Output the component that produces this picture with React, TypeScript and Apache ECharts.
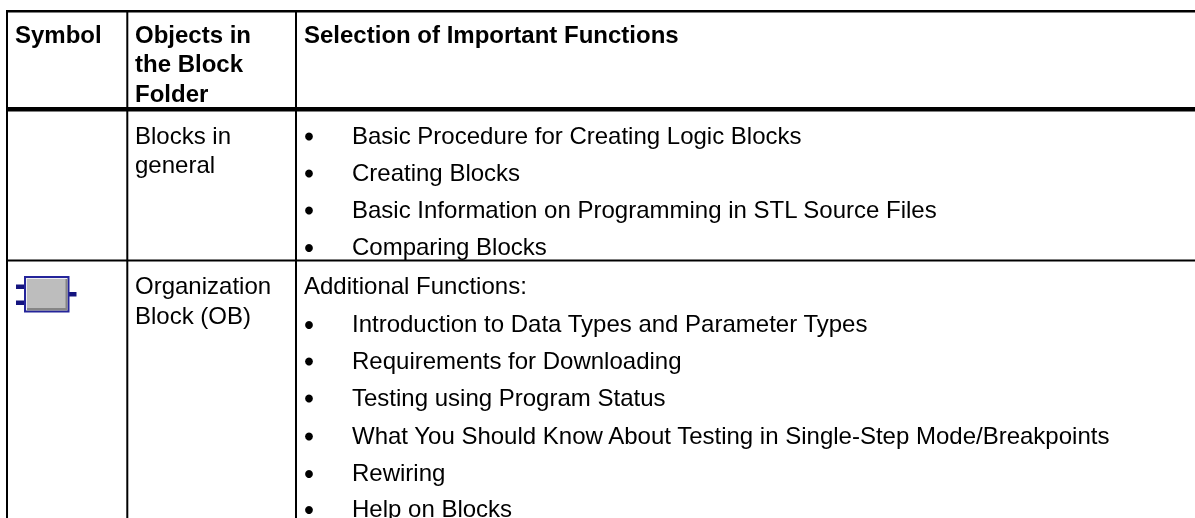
import React, { useEffect, useRef } from "react";
import * as echarts from "echarts";

const headers = [
  { x: 15, lines: ["Symbol"] },
  { x: 135, lines: ["Objects in", "the Block", "Folder"] },
  { x: 304, lines: ["Selection of Important Functions"] },
];
const headerYs = [34.5, 63.5, 93.5];
const objectCells = [
  { y: [135, 164], lines: ["Blocks in", "general"] },
  { y: [285, 315], lines: ["Organization", "Block (OB)"] },
];
const firstItems = [
  { y: 135, text: "Basic Procedure for Creating Logic Blocks" },
  { y: 172, text: "Creating Blocks" },
  { y: 209, text: "Basic Information on Programming in STL Source Files" },
  { y: 246.5, text: "Comparing Blocks" },
];
const addl = "Additional Functions:";
const secondItems = [
  { y: 323.5, text: "Introduction to Data Types and Parameter Types" },
  { y: 360, text: "Requirements for Downloading" },
  { y: 397, text: "Testing using Program Status" },
  { y: 435, text: "What You Should Know About Testing in Single-Step Mode/Breakpoints" },
  { y: 472.5, text: "Rewiring" },
  { y: 508.5, text: "Help on Blocks" },
];

const FONT = "'Liberation Sans', Arial, sans-serif";
const SIZE = 24;

function txt(x: number, y: number, text: string, bold = false) {
  return {
    type: "text",
    x,
    y,
    silent: true,
    style: {
      text,
      fill: "#000",
      font: `${bold ? "bold " : ""}${SIZE}px ${FONT}`,
      verticalAlign: "middle",
    },
  };
}
function box(x1: number, y1: number, x2: number, y2: number, fill = "#000") {
  return {
    type: "rect",
    silent: true,
    shape: { x: x1, y: y1, width: x2 - x1, height: y2 - y1 },
    style: { fill },
    z: 5,
  };
}
function bullet(y: number) {
  return { type: "circle", silent: true, shape: { cx: 309, cy: y, r: 3.9 }, style: { fill: "#000" } };
}

export default function App() {
  const ref = useRef<HTMLDivElement>(null);
  useEffect(() => {
    const chart = echarts.init(ref.current!, null, { renderer: "svg" });
    const els: any[] = [];
    els.push({ type: "rect", shape: { x: 0, y: 0, width: 1195, height: 518 }, style: { fill: "#fff" }, silent: true });
    els.push(box(6, 10, 1195, 12.4));
    els.push(box(6, 107, 1195, 111.4));
    els.push(box(6, 259.6, 1195, 261.6));
    els.push(box(6, 10, 8, 518));
    els.push(box(126.3, 10, 128.3, 518));
    els.push(box(295, 10, 297, 518));
    headers.forEach((h) => h.lines.forEach((l, i) => els.push(txt(h.x, headerYs[i], l, true))));
    objectCells.forEach((c) => c.lines.forEach((l, i) => els.push(txt(135, c.y[i], l))));
    firstItems.forEach((it) => { els.push(bullet(it.y + 1.5)); els.push(txt(352, it.y, it.text)); });
    els.push(txt(304, 285, addl));
    secondItems.forEach((it) => { els.push(bullet(it.y + 1.5)); els.push(txt(352, it.y, it.text)); });
    // block icon
    els.push(box(16, 284.5, 25, 289, "#14147f"));
    els.push(box(16, 300.5, 25, 305, "#14147f"));
    els.push(box(68, 292, 76.5, 296.5, "#14147f"));
    els.push(box(24, 276, 69.5, 312.5, "#24249a"));
    els.push(box(26, 278, 67.5, 310.5, "#eeeef2"));
    els.push(box(27, 279, 67.5, 310.5, "#858585"));
    els.push(box(27, 279, 65.5, 308, "#bdbdbd"));
    chart.setOption({ animation: false, graphic: { elements: els } });
    return () => chart.dispose();
  }, []);
  return <div ref={ref} style={{ position: "fixed", left: 0, top: 0, width: 1195, height: 518 }} />;
}
